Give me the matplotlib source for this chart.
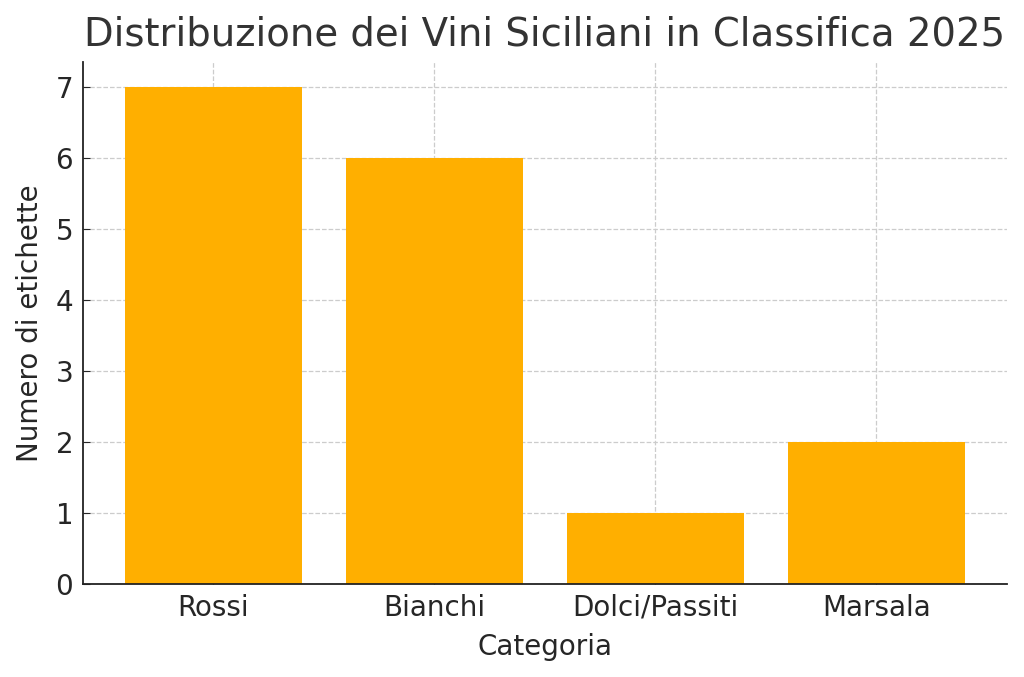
import matplotlib
matplotlib.use("Agg")
import matplotlib.pyplot as plt

categories = ["Rossi", "Bianchi", "Dolci/Passiti", "Marsala"]
counts = [7, 6, 1, 2]

plt.rcParams['font.family'] = ['DejaVu Sans']
fig, ax = plt.subplots(figsize=(10.24, 6.77), dpi=100)
fig.subplots_adjust(left=0.081, right=0.983, top=0.908, bottom=0.137)

ax.bar(categories, counts, color="#FFAF00", width=0.8, zorder=2)
ax.set_title("Distribuzione dei Vini Siciliani in Classifica 2025", fontsize=27.8, color="#333333", pad=12)
ax.set_xlabel("Categoria", fontsize=20, color="#262626", labelpad=8)
ax.set_ylabel("Numero di etichette", fontsize=20, color="#262626", labelpad=8)
ax.tick_params(axis="x", labelsize=20, colors="#262626", direction="in", length=5, pad=7)
ax.tick_params(axis="y", labelsize=20, colors="#262626", direction="in", length=5, pad=7)
ax.grid(True, linestyle="--", color="#cccccc", linewidth=0.9, zorder=0)
ax.set_axisbelow(True)
for s in ["top", "right"]:
    ax.spines[s].set_visible(False)
ax.spines["left"].set_linewidth(1.3)
ax.spines["bottom"].set_linewidth(1.3)
ax.spines["left"].set_color("#222222")
ax.spines["bottom"].set_color("#222222")

fig.savefig("out.png", dpi=100)
